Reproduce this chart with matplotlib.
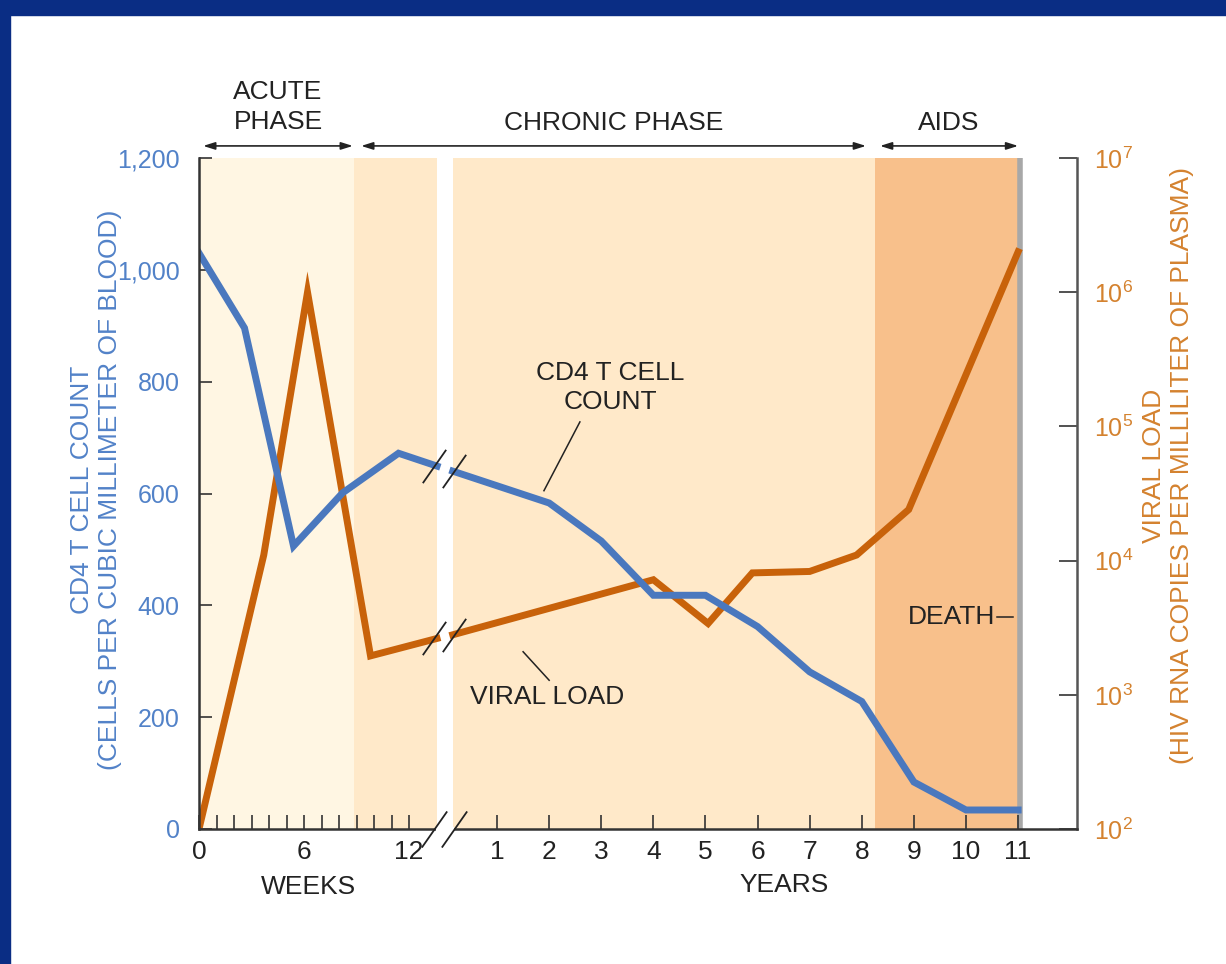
import matplotlib
matplotlib.use('Agg')
import matplotlib.pyplot as plt
import numpy as np
from matplotlib.patches import Rectangle
from matplotlib.ticker import FuncFormatter, FixedLocator

plt.rcParams['font.family'] = ['Liberation Sans Narrow', 'Liberation Sans', 'DejaVu Sans']
plt.rcParams['mathtext.fontset'] = 'custom'
plt.rcParams['mathtext.rm'] = 'Liberation Sans Narrow'

# CD4 count (cells/mm3), first weeks then years
cd4_weeks = [0, 2.6, 5.4, 8.2, 11.4, 13.6]
cd4_w_vals = [1030, 896, 506, 601, 672, 649]
cd4_years = [0.15, 2, 3, 4, 5, 6, 7, 8, 9, 10, 11]
cd4_y_vals = [640, 583, 515, 418, 418, 362, 281, 228, 84, 34, 34]

# viral load (copies/ml)
vl_weeks = [0, 3.7, 6.2, 9.8, 13.6]
vl_w_vals = [100, 11000, 1000000, 1950, 2630]
vl_years = [0.15, 4, 5.05, 5.9, 7, 7.9, 8.9, 11]
vl_y_vals = [2800, 7200, 3400, 8100, 8300, 11000, 24000, 2000000]

week_ticks = [0, 6, 12]
year_ticks = [1, 2, 3, 4, 5, 6, 7, 8, 9, 10, 11]
cd4_ticks = [0, 200, 400, 600, 800, 1000, 1200]
vl_ticks = [1e2, 1e3, 1e4, 1e5, 1e6, 1e7]

acute_end_wk = 8.85
break_wk = 13.6
break_yr = 0.15
aids_start_yr = 8.25
death_yr = 11

BLUE = '#4a78be'
ORANGE = '#c8620a'
BLUE_TXT = '#5282c8'
ORANGE_TXT = '#d4822f'
DARK = '#222222'


def wpos(w):
    return np.asarray(w, dtype=float) * 17.5 / 52.1


def ypos(y):
    return 4.72 + np.asarray(y, dtype=float)


fig = plt.figure(figsize=(12.26, 9.64), dpi=100)
fig.patches.append(Rectangle((0, 1 - 15 / 964), 1, 15 / 964, transform=fig.transFigure,
                             color='#0a2d84', zorder=10))
fig.patches.append(Rectangle((0, 0), 10 / 1226, 1, transform=fig.transFigure,
                             color='#0a2d84', zorder=10))

ax = fig.add_axes([199 / 1226, 1 - 829 / 964, (1077 - 199) / 1226, 671 / 964])
ax2 = ax.twinx()
ax.set_zorder(ax2.get_zorder() + 1)
ax.patch.set_visible(False)

# phase shading on the back axis
ax2.axvspan(0, wpos(acute_end_wk), color='#fff6e3', lw=0)
ax2.axvspan(wpos(acute_end_wk), wpos(break_wk), color='#ffe9c9', lw=0)
ax2.axvspan(ypos(break_yr), ypos(aids_start_yr), color='#ffe9c9', lw=0)
ax2.axvspan(ypos(aids_start_yr), ypos(death_yr), color='#f8c08b', lw=0)
ax2.axvline(ypos(death_yr) + 0.03, color='#a8a8a8', lw=4)

# viral load
ax2.plot(wpos(vl_weeks), vl_w_vals, color=ORANGE, lw=5, solid_joinstyle='miter')
ax2.plot(ypos(vl_years), vl_y_vals, color=ORANGE, lw=5, solid_joinstyle='miter')
ax2.set_yscale('log')
ax2.set_ylim(1e2, 1e7)
ax2.yaxis.set_major_locator(FixedLocator(vl_ticks))
ax2.yaxis.set_minor_locator(FixedLocator([]))
ax2.yaxis.set_major_formatter(FuncFormatter(lambda v, p: r'$\mathregular{10^{%d}}$' % round(np.log10(v))))
ax2.tick_params(axis='y', direction='in', length=13, width=1.2, colors='#333333',
                labelcolor=ORANGE_TXT, labelsize=18, pad=12)

# CD4 count
ax.plot(wpos(cd4_weeks), cd4_w_vals, color=BLUE, lw=5, solid_joinstyle='miter')
ax.plot(ypos(cd4_years), cd4_y_vals, color=BLUE, lw=5, solid_joinstyle='miter')
ax.set_ylim(0, 1200)
ax.set_xlim(0, 16.85)
ax.set_yticks(cd4_ticks)
ax.yaxis.set_major_formatter(FuncFormatter(lambda v, p: '{:,.0f}'.format(v)))
ax.tick_params(axis='y', direction='in', length=9, width=1.2, colors='#333333',
               labelcolor=BLUE_TXT, labelsize=18, pad=14)

xt = list(wpos(week_ticks)) + list(ypos(year_ticks))
xl = [str(w) for w in week_ticks] + [str(y) for y in year_ticks]
ax.set_xticks(xt)
ax.set_xticklabels(xl)
ax.set_xticks(list(wpos(range(0, 13))), minor=True)
ax.tick_params(axis='x', which='both', direction='in', length=10, width=1.2,
               colors='#333333', labelcolor=DARK, labelsize=19, pad=8)

for a in (ax, ax2):
    a.spines['top'].set_visible(False)
ax.spines['right'].set_visible(False)
ax2.spines['left'].set_visible(False)
ax2.spines['bottom'].set_visible(False)
ax.spines['left'].set_color('#333333')
ax.spines['bottom'].set_color('#333333')
ax2.spines['right'].set_color('#555555')
for s in ('left', 'bottom'):
    ax.spines[s].set_linewidth(1.8)
ax2.spines['right'].set_linewidth(1.8)

# white gap of the broken axis
ax2.axvspan(wpos(break_wk), ypos(break_yr), color='white', lw=0)
ax.plot([wpos(break_wk) + 0.02, ypos(break_yr) - 0.02], [0, 0], color='white', lw=3,
        clip_on=False, zorder=5)
slash = [(-0.7, -1), (0.7, 1)]
bx = [wpos(break_wk) - 0.05, ypos(break_yr) + 0.02]
ax.plot(bx, [0, 0], ls='none', marker=slash, ms=26, mew=1.3, color=DARK, clip_on=False, zorder=6)
ax.plot(bx, [cd4_w_vals[-1], cd4_y_vals[0]], ls='none', marker=slash, ms=24, mew=1.3,
        color=DARK, zorder=6)
ax2.plot(bx, [vl_w_vals[-1], vl_y_vals[0]], ls='none', marker=slash, ms=24, mew=1.3,
         color=DARK, zorder=6)

# phase arrows
trans = ax.get_xaxis_transform()
arrow = dict(arrowstyle='<|-|>,head_length=0.7,head_width=0.22', color=DARK, lw=1.2,
             shrinkA=0, shrinkB=0)
phases = [(0.08, wpos(acute_end_wk) - 0.02, 'ACUTE\nPHASE', 1.076),
          (wpos(acute_end_wk) + 0.14, ypos(aids_start_yr) - 0.17, 'CHRONIC PHASE', 1.052),
          (ypos(aids_start_yr) + 0.10, ypos(death_yr), 'AIDS', 1.052)]
for x0, x1, label, ty in phases:
    ax.annotate('', xy=(x0, 1.018), xytext=(x1, 1.018), xycoords=trans, textcoords=trans,
                arrowprops=arrow, annotation_clip=False)
    ax.text((x0 + x1) / 2, ty, label, transform=trans, ha='center', va='center',
            fontsize=19, color=DARK, linespacing=1.3)

# line labels
ax.text(7.89, 789, 'CD4 T CELL\nCOUNT', ha='center', va='center', fontsize=19,
        color=DARK, linespacing=1.25)
ax.plot([7.31, 6.62], [728, 605], color=DARK, lw=1.1)
ax.text(6.68, 236, 'VIRAL LOAD', ha='center', va='center', fontsize=19, color=DARK)
ax.plot([6.22, 6.72], [317, 266], color=DARK, lw=1.1)
ax.text(14.45, 380, 'DEATH', ha='center', va='center', fontsize=19, color=DARK)
ax.plot([15.32, 15.62], [380, 380], color=DARK, lw=1.1)

# axis titles
fig.text(308 / 1226, 1 - 887 / 964, 'WEEKS', ha='center', va='center', fontsize=19, color=DARK)
fig.text(784 / 1226, 1 - 885 / 964, 'YEARS', ha='center', va='center', fontsize=19, color=DARK)
fig.text(96 / 1226, 1 - 490 / 964, 'CD4 T CELL COUNT\n(CELLS PER CUBIC MILLIMETER OF BLOOD)',
         rotation=90, ha='center', va='center', fontsize=19, color=BLUE_TXT,
         multialignment='center', linespacing=1.2)
fig.text(1168 / 1226, 1 - 466 / 964, 'VIRAL LOAD\n(HIV RNA COPIES PER MILLILITER OF PLASMA)',
         rotation=90, ha='center', va='center', fontsize=19, color=ORANGE_TXT,
         multialignment='center', linespacing=1.2)

fig.savefig('out.png', dpi=100, facecolor='white')
